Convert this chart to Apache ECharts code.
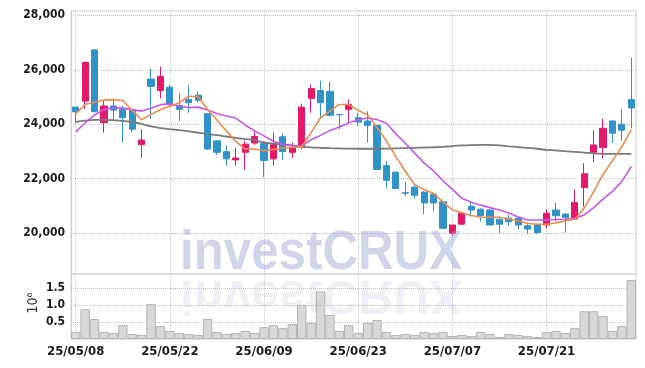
<!DOCTYPE html>
<html><head><meta charset="utf-8">
<script src="https://cdn.jsdelivr.net/npm/echarts@6/dist/echarts.min.js"></script>
<style>html,body{margin:0;padding:0;background:#fff}#c{width:645px;height:368px}</style>
</head><body><div id="c"></div>
<script>
const dates = ['25/05/08','25/05/09','25/05/12','25/05/13','25/05/14','25/05/15','25/05/16','25/05/19','25/05/20','25/05/21',
'25/05/22','25/05/23','25/05/26','25/05/27','25/05/28','25/05/29','25/05/30','25/06/02','25/06/04','25/06/05',
'25/06/09','25/06/10','25/06/11','25/06/12','25/06/13','25/06/16','25/06/17','25/06/18','25/06/19','25/06/20',
'25/06/23','25/06/24','25/06/25','25/06/26','25/06/27','25/06/30','25/07/01','25/07/02','25/07/03','25/07/04',
'25/07/07','25/07/08','25/07/09','25/07/10','25/07/11','25/07/14','25/07/15','25/07/16','25/07/17','25/07/18',
'25/07/21','25/07/22','25/07/23','25/07/24','25/07/25','25/07/28','25/07/29','25/07/30','25/07/31','25/08/01'];
const opens = [24630,24850,26730,24060,24670,24550,24510,23250,25660,25240,
25360,24690,24910,25070,24390,23390,22990,22690,22970,23310,
23290,22730,23540,22970,23170,24950,25240,25210,24360,24550,
24240,24120,23960,22480,22240,21480,21690,21510,21430,21150,
20000,20330,20990,20880,20850,20510,20550,20550,20270,20300,
20300,20850,20700,20520,21670,22970,23150,24120,24000,24910];
const closes = [24460,26270,24460,24670,24520,24240,23820,23420,25390,25760,
24730,24550,24790,24870,23090,22970,22730,22760,23270,23550,
22670,23250,23000,23150,24630,25310,24790,24330,24350,24730,
24080,23960,22340,21940,21640,21470,21390,21110,21110,20180,
20300,20730,20850,20640,20300,20330,20420,20300,20150,20020,
20730,20640,20580,21130,22180,23240,23850,23670,23780,24600];
const lows = [24050,24560,24450,23690,24120,23330,23720,22770,24200,24950,
24640,24120,24420,24790,23060,22870,22480,22480,22330,23250,
22060,22480,22690,22760,23080,24420,24190,24270,23820,24060,
23940,23330,22320,21640,21630,21360,21270,20700,20790,20150,
19900,20320,20600,20420,20280,20000,20270,20150,19980,19980,
20180,20420,20020,20500,20970,22600,22760,23310,23390,23850];
const highs = [24630,26300,26750,24850,24950,24670,24520,23820,26040,26120,
25450,25150,25450,25210,24400,23390,23210,23130,23390,23760,
23370,23690,23660,23330,24760,25450,25600,25570,24370,24910,
24420,24480,23970,22640,22270,21880,21820,21540,21470,21210,
20300,20790,21110,20920,20870,20600,20670,20600,20340,20340,
20870,21110,20740,21600,22570,23780,24200,24150,24550,26450];
const ma5 = [24385,24727,24810,24894,24894,24872,24509,24167,24363,24545,
24665,24790,25030,25010,24545,24156,23756,23367,23091,23091,
23029,23076,23127,23149,23174,23694,24240,24483,24727,24727,
24509,24338,23876,23392,22811,22276,21782,21600,21454,21149,
20858,20749,20647,20582,20582,20582,20520,20447,20356,20327,
20327,20375,20458,20509,20920,21513,22156,22665,23174,23800];
const ma20 = [23720,24047,24338,24538,24610,24592,24538,24483,24592,24720,
24749,24665,24618,24629,24520,24392,24301,24229,23974,23756,
23574,23374,23265,23211,23211,23429,23592,23774,23901,24047,
24163,24229,24174,24036,23647,23301,22938,22574,22290,21920,
21611,21284,21138,21029,20938,20854,20738,20593,20484,20484,
20484,20502,20509,20545,20665,20938,21247,21538,21902,22447];
const ma60 = [24083,24130,24160,24160,24150,24120,24083,24010,23920,23860,
23820,23781,23740,23690,23640,23600,23550,23500,23454,23418,
23330,23290,23255,23220,23180,23150,23135,23120,23112,23105,
23100,23100,23100,23105,23115,23125,23135,23145,23155,23170,
23200,23225,23236,23240,23240,23225,23190,23160,23130,23100,
23060,23040,23010,22985,22960,22930,22915,22910,22910,22909];
const volumes = [210000,880000,590000,210000,180000,410000,150000,120000,1030000,380000,
240000,180000,150000,120000,590000,210000,150000,180000,240000,180000,
350000,410000,320000,440000,1010000,470000,1410000,710000,240000,410000,
180000,470000,560000,210000,120000,150000,120000,210000,180000,210000,
90000,120000,90000,210000,150000,60000,150000,120000,90000,60000,
210000,240000,180000,320000,820000,820000,680000,240000,380000,1740000];
const priceTicks = [20000,22000,24000,26000,28000];
const volumeTicks = [500000,1000000,1500000];

const COND = "'DejaVu Sans Condensed',sans-serif";
const every10 = (i) => i % 10 === 0;
const vSplit = {show:true, interval: every10, alignWithLabel:true, lineStyle:{type:'dotted', color:'#c4c8dc', width:1}};
const hSplit = {show:true, lineStyle:{type:'dotted', color:'#c2c2c8', width:1}};

const chart = echarts.init(document.getElementById('c'), null, {renderer:'canvas'});
chart.setOption({
  animation:false,
  backgroundColor:'#fff',
  grid:[
    {left:71, right:9, top:11, height:263, show:true, borderColor:'#d0d0d0', borderWidth:1},
    {left:71, right:9, top:274, height:65, show:true, borderColor:'#d0d0d0', borderWidth:1}
  ],
  xAxis:[
    {type:'category', gridIndex:0, data:dates, boundaryGap:true,
     axisLine:{show:false}, axisTick:{show:false, alignWithLabel:true, interval:every10}, axisLabel:{show:false},
     splitLine:vSplit},
    {type:'category', gridIndex:1, data:dates, boundaryGap:true,
     axisLine:{show:false}, axisTick:{show:false, alignWithLabel:true, interval:every10},
     axisLabel:{show:true, interval:every10, color:'#1a1a1a', fontFamily:COND, fontWeight:'bold', fontSize:13, margin:6},
     splitLine:vSplit}
  ],
  yAxis:[
    {type:'value', gridIndex:0, min:18500, max:28160, scale:true,
     axisLine:{show:true, lineStyle:{color:'#d0d0d0'}},
     axisTick:{show:false, customValues:priceTicks},
     axisLabel:{customValues:priceTicks, formatter:(v)=>v.toLocaleString('en-US'), color:'#1a1a1a', fontFamily:COND, fontWeight:'bold', fontSize:12, margin:6},
     splitLine:hSplit},
    {type:'value', gridIndex:1, min:0, max:1920000,
     axisLine:{show:true, lineStyle:{color:'#d0d0d0'}},
     axisTick:{show:false, customValues:volumeTicks},
     axisLabel:{customValues:volumeTicks, formatter:(v)=>(v/1e6).toFixed(1), color:'#1a1a1a', fontFamily:COND, fontWeight:'bold', fontSize:12, margin:6},
     splitLine:hSplit}
  ],
  series:[
    {type:'candlestick', xAxisIndex:0, yAxisIndex:0, barWidth:'70%',
     data: dates.map((d,i)=>[opens[i], closes[i], lows[i], highs[i]]),
     itemStyle:{color:'#e31a69', color0:'#3093c8', borderColor:'#e31a69', borderColor0:'#3093c8', borderWidth:1}},
    {type:'line', xAxisIndex:0, yAxisIndex:0, data:ma60, symbol:'none', smooth:0.3, lineStyle:{color:'#7a7a7a', width:1.8}},
    {type:'line', xAxisIndex:0, yAxisIndex:0, data:ma20, symbol:'none', lineStyle:{color:'#c857ec', width:1.6}},
    {type:'line', xAxisIndex:0, yAxisIndex:0, data:ma5, symbol:'none', lineStyle:{color:'#ee8a4e', width:1.6}},
    {type:'bar', xAxisIndex:1, yAxisIndex:1, data:volumes, barCategoryGap:'0%',
     itemStyle:{color:'#d8d8d8', borderColor:'#b4b4b4', borderWidth:1}}
  ],
  graphic:[
    {type:'text', x:180, y:282, scaleX:0.88, z:100, silent:true,
     style:{text:'investCRUX', fontFamily:'"Liberation Sans", Arial, sans-serif', fontWeight:'bold', fontSize:56, fill:'rgba(150,162,208,0.45)', verticalAlign:'bottom', align:'left'}},
    {type:'text', x:180, y:270, scaleX:0.88, scaleY:-0.85, z:100, silent:true,
     style:{text:'investCRUX', fontFamily:'"Liberation Sans", Arial, sans-serif', fontWeight:'bold', fontSize:56, fill:'rgba(150,162,208,0.16)', verticalAlign:'bottom', align:'left'}},
    {type:'text', x:33, y:303, rotation:Math.PI/2, z:100, silent:true,
     style:{text:'10⁶', font:'14px "DejaVu Sans Condensed", sans-serif', fill:'#333', align:'center', verticalAlign:'middle'}}
  ]
});
</script></body></html>
